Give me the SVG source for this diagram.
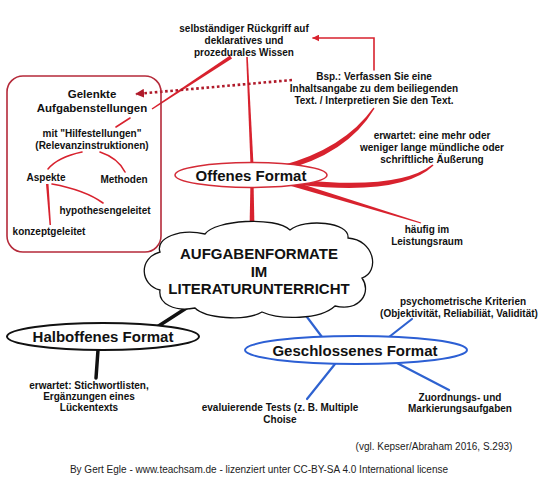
<svg xmlns="http://www.w3.org/2000/svg" width="548" height="480" viewBox="0 0 548 480">
<defs>
<style>
.t{font-family:"Liberation Sans",Arial,sans-serif;font-weight:bold;font-size:10px;fill:#111;text-anchor:middle}
.h{font-family:"Liberation Sans",Arial,sans-serif;font-weight:bold;font-size:15px;fill:#111;text-anchor:middle}
.n{font-family:"Liberation Sans",Arial,sans-serif;font-size:10px;fill:#222;text-anchor:middle}
.red{fill:#d8222e;stroke:none}
.rl{fill:none;stroke:#d8222e;stroke-width:1.6;stroke-linecap:round}
.bl{fill:none;stroke:#2e62d0;stroke-width:2.2;stroke-linecap:round}
.bk{fill:none;stroke:#111;stroke-width:3.5;stroke-linecap:round}
</style>
<marker id="ah" viewBox="0 0 10 10" refX="9" refY="5" markerWidth="7" markerHeight="7" orient="auto-start-reverse" markerUnits="userSpaceOnUse">
<path d="M0,0 L10,5 L0,10 Z" fill="#d8222e"/>
</marker>
<marker id="ahd" viewBox="0 0 10 10" refX="9" refY="5" markerWidth="9" markerHeight="9" orient="auto" markerUnits="userSpaceOnUse">
<path d="M0,0 L10,5 L0,10 Z" fill="#b01a2a"/>
</marker>
</defs>
<rect width="548" height="480" fill="#fff"/>

<g id="connectors">
<polygon class="red" points="246.2,57 247.8,57 253.5,165 250.5,165"/>
<polygon class="red" points="250.5,180 253.5,180 254.5,230 249.5,230"/>
<polygon class="red" points="230.0,55.5 232.0,58.5 152.4,109.6 151.6,108.4"/>
<path class="red" d="M280,166 Q344,149 373.5,107.5 L374.5,108.5 Q347,155 280,171 Z"/>
<path class="red" d="M300,180 Q400,190 432.5,164.5 L433.5,165.5 Q402,196 300,185 Z"/>
<polygon class="red" points="290.7,180.6 421.2,222.4 420.8,223.6 289.3,185.4"/>
<path class="rl" d="M374,70 V38 H313" marker-end="url(#ah)"/>
<path d="M292,80 L136,94" fill="none" stroke="#b01a2a" stroke-width="2.6" stroke-dasharray="2.6 2.6" marker-end="url(#ahd)"/>
<path class="rl" d="M130,118 L116,127"/>
<path class="rl" d="M82,152 Q58,157 48,169"/>
<path class="rl" d="M100,152 Q118,158 125,172"/>
<polygon class="red" points="46,184 48.5,184 51,225 49.5,225"/>
<path class="rl" d="M52,184 Q85,190 103,203"/>
<path class="bk" d="M188,307 L157,327"/>
<path class="bk" d="M98,350 L96,378"/>
<path class="bl" d="M304,313 L322,337"/>
<path class="bl" d="M389,337 L412,319"/>
<path class="bl" d="M335,364 L307,399"/>
<path class="bl" d="M397,363 L449,390"/>
</g>

<g id="wissen">
<text class="t" x="244" y="32">selbständiger Rückgriff auf</text>
<text class="t" x="244" y="44">deklaratives und</text>
<text class="t" x="244" y="56">prozedurales Wissen</text>
</g>
<g id="bsp">
<text class="t" x="374" y="80">Bsp.: Verfassen Sie eine</text>
<text class="t" x="374" y="92">Inhaltsangabe zu dem beiliegenden</text>
<text class="t" x="374" y="104">Text. / Interpretieren Sie den Text.</text>
</g>
<g id="gelenkt">
<rect x="7" y="76" width="154" height="176" rx="16" fill="none" stroke="#b52a3a" stroke-width="1.6"/>
<text class="t" x="92" y="98" style="font-size:11.5px">Gelenkte</text>
<text class="t" x="92" y="112" style="font-size:11.5px">Aufgabenstellungen</text>
<text class="t" x="92" y="137">mit "Hilfestellungen"</text>
<text class="t" x="92" y="149">(Relevanzinstruktionen)</text>
<text class="t" x="46" y="181">Aspekte</text>
<text class="t" x="124" y="183">Methoden</text>
<text class="t" x="105" y="214">hypothesengeleitet</text>
<text class="t" x="49" y="235">konzeptgeleitet</text>
</g>
<g id="offen">
<ellipse cx="251" cy="175" rx="76" ry="12.5" fill="#fff" stroke="#d42a36" stroke-width="1.5"/>
<text class="h" x="251" y="180.5">Offenes Format</text>
</g>
<g id="erwartet1">
<text class="t" x="432" y="139">erwartet: eine mehr oder</text>
<text class="t" x="432" y="151">weniger lange mündliche oder</text>
<text class="t" x="432" y="163">schriftliche Äußerung</text>
</g>
<g id="haeufig">
<text class="t" x="427" y="233">häufig im</text>
<text class="t" x="427" y="245">Leistungsraum</text>
</g>
<g id="cloud">
<path d="M160,290 C140,285 138,258 160,252 C155,238 180,228 205,234 C215,220 275,216 290,230 C305,218 350,222 348,238 C375,240 380,272 362,278 C372,292 360,312 335,306 C320,320 280,320 262,312 C245,322 205,318 195,308 C175,312 158,304 160,290 Z" fill="#fff" stroke="#111" stroke-width="1.3"/>
<text class="h" x="259" y="259">AUFGABENFORMATE</text>
<text class="h" x="259" y="277">IM</text>
<text class="h" x="259" y="294">LITERATURUNTERRICHT</text>
</g>
<g id="halboffen">
<ellipse cx="103" cy="336.5" rx="96" ry="13.5" fill="#fff" stroke="#111" stroke-width="2"/>
<text class="h" x="103" y="342">Halboffenes Format</text>
</g>
<g id="erwartet2">
<text class="t" x="89" y="389">erwartet: Stichwortlisten,</text>
<text class="t" x="89" y="400">Ergänzungen eines</text>
<text class="t" x="89" y="411">Lückentexts</text>
</g>
<g id="geschlossen">
<ellipse cx="356" cy="350" rx="111" ry="14" fill="#fff" stroke="#2c5fd4" stroke-width="2"/>
<text class="h" x="355" y="355.5">Geschlossenes Format</text>
</g>
<g id="psycho">
<text class="t" x="463" y="305">psychometrische Kriterien</text>
<text class="t" x="459" y="317">(Objektivität, Reliabiliät, Validität)</text>
</g>
<g id="tests">
<text class="t" x="280" y="411">evaluierende Tests (z. B. Multiple</text>
<text class="t" x="280" y="423">Choise</text>
</g>
<g id="zuordnung">
<text class="t" x="460" y="401">Zuordnungs- und</text>
<text class="t" x="460" y="412">Markierungsaufgaben</text>
</g>
<text class="n" x="434" y="450">(vgl. Kepser/Abraham 2016, S.293)</text>
<text class="n" x="259" y="473">By Gert Egle - www.teachsam.de - lizenziert unter CC-BY-SA 4.0 International license</text>
</svg>
